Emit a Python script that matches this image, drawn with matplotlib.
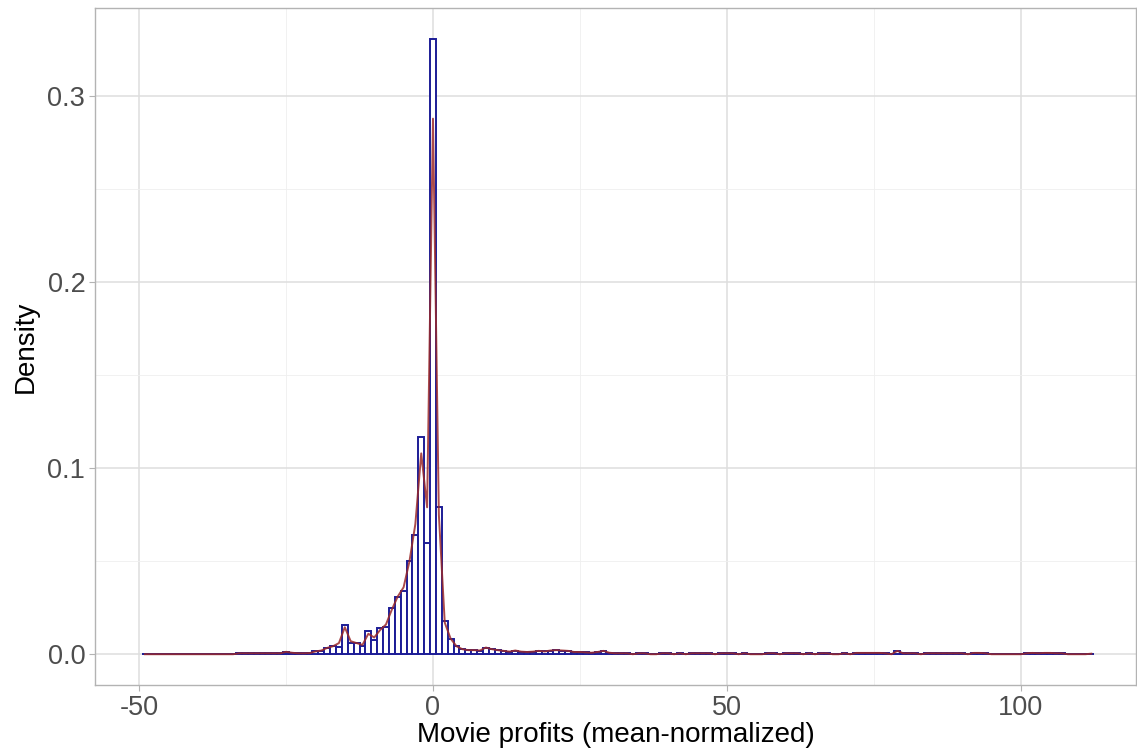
import matplotlib.pyplot as plt
import numpy as np

plt.rcParams['font.family'] = ['Liberation Sans', 'DejaVu Sans']

# bin centers (binwidth = 1) from -49 to 112
bin_lo = -49
bin_hi = 112

# histogram heights (density), listed by bin center
heights_left = {
    -33: 0.0005, -32: 0.0005, -31: 0.0005, -30: 0.0005, -29: 0.0005,
    -28: 0.0005, -27: 0.0005, -26: 0.0005, -25: 0.0013, -24: 0.0008,
    -23: 0.0005, -22: 0.0005, -21: 0.0006, -20: 0.0015, -19: 0.002,
    -18: 0.0034, -17: 0.0043, -16: 0.004, -15: 0.0156, -14: 0.006,
    -13: 0.006, -12: 0.0043, -11: 0.0127, -10: 0.0077, -9: 0.014,
    -8: 0.0145, -7: 0.025, -6: 0.0306, -5: 0.034, -4: 0.050,
    -3: 0.0643, -2: 0.117, -1: 0.060, 0: 0.331, 1: 0.079,
    2: 0.018, 3: 0.0084, 4: 0.0043, 5: 0.0027, 6: 0.0022,
    7: 0.0022, 8: 0.002, 9: 0.0036, 10: 0.0027, 11: 0.0022,
    12: 0.0018, 13: 0.0014, 14: 0.002, 15: 0.0014, 16: 0.0012,
    17: 0.0014, 18: 0.0018, 19: 0.0015, 20: 0.002, 21: 0.0022,
    22: 0.002, 23: 0.0018, 24: 0.0012, 25: 0.0012, 26: 0.001,
    27: 0.0008, 28: 0.0012, 29: 0.0018, 30: 0.0008,
}
heights_right = {
    31: 0.0005, 32: 0.0005, 33: 0.0005, 35: 0.0005, 36: 0.0005,
    39: 0.0005, 40: 0.0005, 42: 0.0005, 44: 0.0005, 45: 0.0005,
    46: 0.0005, 47: 0.0005, 49: 0.0005, 50: 0.0005, 51: 0.0005,
    53: 0.0005, 57: 0.0005, 58: 0.0005, 60: 0.0005, 61: 0.0005,
    62: 0.0005, 64: 0.0005, 66: 0.0005, 67: 0.0005, 70: 0.0005,
    72: 0.0007, 73: 0.0007, 74: 0.0007, 75: 0.0007, 76: 0.0007,
    77: 0.0005, 79: 0.0018, 80: 0.0005, 81: 0.0005, 82: 0.0005,
    84: 0.0005, 85: 0.0005, 86: 0.0005, 87: 0.0005, 88: 0.0005,
    89: 0.0005, 90: 0.0005, 92: 0.0007, 93: 0.0007, 94: 0.0005,
    101: 0.0005, 102: 0.0007, 103: 0.0005, 104: 0.0007, 105: 0.0007,
    106: 0.0005, 107: 0.0005, 112: 0.0003,
}

# density curve values that differ from the bar tops
curve_override = {
    -16: 0.006, -15: 0.0145, -14: 0.007, -12: 0.005, -11: 0.011,
    -10: 0.009, -9: 0.013, -8: 0.016, -7: 0.024, -6: 0.031,
    -5: 0.036, -4: 0.050, -3: 0.070, -2: 0.108, -1: 0.079,
    0: 0.288, 1: 0.075, 2: 0.017,
}

centers = np.arange(bin_lo, bin_hi + 1)
heights = np.array([heights_left.get(c, heights_right.get(c, 0.0)) for c in centers])
curve = np.array([curve_override.get(c, h) for c, h in zip(centers, heights)])

fig = plt.figure(figsize=(11.37, 7.55), dpi=100)
ax = fig.add_axes([95 / 1137, 1 - 685 / 755, (1136 - 95) / 1137, (685 - 8) / 755])

ax.bar(centers, heights, width=1.0, color='white', edgecolor='#1c1c96',
       linewidth=1.4, zorder=3)
ax.plot(centers, curve, color='#9b2a2a', linewidth=1.4, alpha=0.85, zorder=4)

ax.set_xlim(-57.5, 119.6)
ax.set_ylim(-0.01655, 0.3475)
ax.set_xticks([-50, 0, 50, 100])
ax.set_xticklabels(['-50', '0', '50', '100'])
ax.set_yticks([0.0, 0.1, 0.2, 0.3])
ax.set_yticklabels(['0.0', '0.1', '0.2', '0.3'])
ax.set_xticks([-25, 25, 75], minor=True)
ax.set_yticks([0.05, 0.15, 0.25], minor=True)

ax.grid(which='major', color='#dedede', linewidth=1.1, zorder=0)
ax.grid(which='minor', color='#efefef', linewidth=0.6, zorder=0)
ax.set_axisbelow(True)

for s in ax.spines.values():
    s.set_color('#b3b3b3')
    s.set_linewidth(1.0)

ax.tick_params(which='major', length=4, width=0.8, color='#b3b3b3',
               labelsize=19.5, labelcolor='#4d4d4d', pad=3)
ax.tick_params(which='minor', length=0)

ax.set_xlabel('Movie profits (mean-normalized)', fontsize=20, color='black', labelpad=1)
ax.set_ylabel('Density', fontsize=20, color='black', labelpad=6)

plt.savefig('out.png', dpi=100)
